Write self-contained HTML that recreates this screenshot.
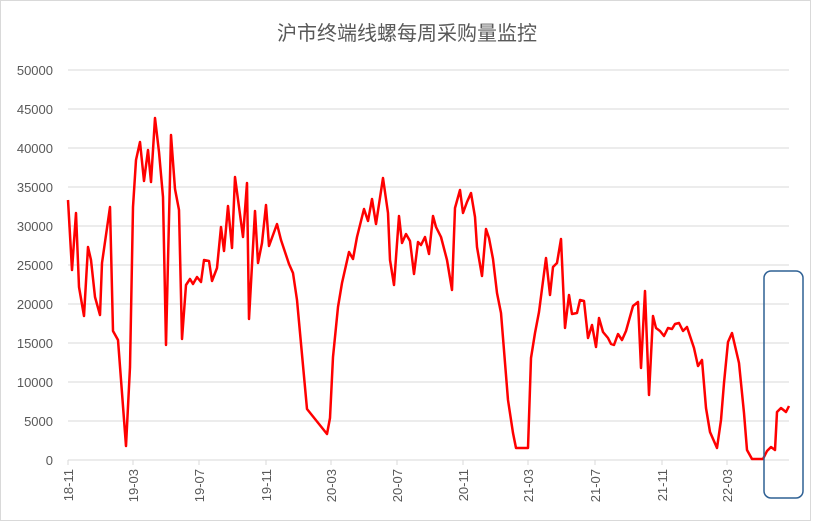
<!DOCTYPE html>
<html><head><meta charset="utf-8"><style>
body{margin:0;background:#fff}
svg{display:block;font-family:"Liberation Sans","Noto Sans CJK SC",sans-serif}
</style></head><body>
<svg width="813" height="523" viewBox="0 0 813 523">
<rect x="0.5" y="0.5" width="810" height="520" fill="#fff" stroke="#d9d9d9"/>
<text x="407" y="40" text-anchor="middle" font-size="20" fill="#595959">沪市终端线螺每周采购量监控</text>
<g stroke="#d9d9d9" stroke-width="1">
<line x1="68" x2="789" y1="70" y2="70"/><line x1="68" x2="789" y1="109" y2="109"/><line x1="68" x2="789" y1="148" y2="148"/><line x1="68" x2="789" y1="187" y2="187"/><line x1="68" x2="789" y1="226" y2="226"/><line x1="68" x2="789" y1="265" y2="265"/><line x1="68" x2="789" y1="304" y2="304"/><line x1="68" x2="789" y1="343" y2="343"/><line x1="68" x2="789" y1="382" y2="382"/><line x1="68" x2="789" y1="421" y2="421"/><line x1="68" x2="789" y1="460" y2="460"/>
<line x1="68" x2="68" y1="460" y2="465"/><line x1="133" x2="133" y1="460" y2="465"/><line x1="199" x2="199" y1="460" y2="465"/><line x1="266" x2="266" y1="460" y2="465"/><line x1="331" x2="331" y1="460" y2="465"/><line x1="397" x2="397" y1="460" y2="465"/><line x1="463" x2="463" y1="460" y2="465"/><line x1="528" x2="528" y1="460" y2="465"/><line x1="595" x2="595" y1="460" y2="465"/><line x1="662" x2="662" y1="460" y2="465"/><line x1="727" x2="727" y1="460" y2="465"/>
</g>
<g font-size="13" fill="#595959" text-anchor="end">
<text x="53" y="75">50000</text><text x="53" y="114">45000</text><text x="53" y="153">40000</text><text x="53" y="192">35000</text><text x="53" y="231">30000</text><text x="53" y="270">25000</text><text x="53" y="309">20000</text><text x="53" y="348">15000</text><text x="53" y="387">10000</text><text x="53" y="426">5000</text><text x="53" y="465">0</text>
</g>
<g font-size="13" fill="#595959" text-anchor="end">
<text transform="translate(73,469) rotate(-90)">18-11</text><text transform="translate(138,469) rotate(-90)">19-03</text><text transform="translate(204,469) rotate(-90)">19-07</text><text transform="translate(271,469) rotate(-90)">19-11</text><text transform="translate(336,469) rotate(-90)">20-03</text><text transform="translate(402,469) rotate(-90)">20-07</text><text transform="translate(468,469) rotate(-90)">20-11</text><text transform="translate(533,469) rotate(-90)">21-03</text><text transform="translate(600,469) rotate(-90)">21-07</text><text transform="translate(667,469) rotate(-90)">21-11</text><text transform="translate(732,469) rotate(-90)">22-03</text>
</g>
<polyline fill="none" stroke="#ff0000" stroke-width="2.5" stroke-linejoin="round" points="68,200 72,270 76,213 79,287 84,316 88,247 91,260 95,297 100,315 102,263 110,207 113,331 118,340 126,446 130,367 133,207 136,160 140,142 144,181 148,150 151,182 155,118 159,152 163,197 166,345 171,135 175,189 179,210 182,339 186,285 190,279 193,284 197,277 201,282 204,260 209,261 212,281 217,268 221,227 224,251 228,206 232,248 235,177 243,237 247,183 249,319 255,211 258,263 262,243 266,205 269,246 277,224 281,240 285,252 289,264 293,273 297,300 307,409 327,434 330,418 333,357 338,307 342,283 349,252 353,259 357,237 364,209 368,221 372,199 376,224 383,178 388,213 390,260 394,285 399,216 402,243 406,234 410,241 414,274 418,242 421,245 425,237 429,254 433,216 436,227 441,237 447,260 452,290 455,208 460,190 463,213 467,202 471,193 475,217 477,247 482,276 486,229 489,238 493,259 497,293 501,313 508,400 513,433 516,448 528,448 531,358 535,333 539,312 546,258 550,295 553,267 557,263 561,239 565,328 569,295 572,314 577,313 580,300 584,301 588,338 592,325 596,347 599,318 603,332 608,338 611,344 614,345 618,334 622,340 626,331 633,306 638,302 641,368 645,291 649,395 653,316 656,328 660,331 664,336 668,328 672,329 675,324 679,323 683,331 687,327 694,348 698,366 702,360 706,408 710,432 717,448 721,420 724,383 728,342 732,333 739,363 744,413 747,450 752,459 763,459 767,451 771,447 775,450 777,412 781,408 786,412 789,406"/>
<rect x="764" y="271" width="39" height="227" rx="7" fill="none" stroke="#2e6094" stroke-width="1.5"/>
</svg>
</body></html>
